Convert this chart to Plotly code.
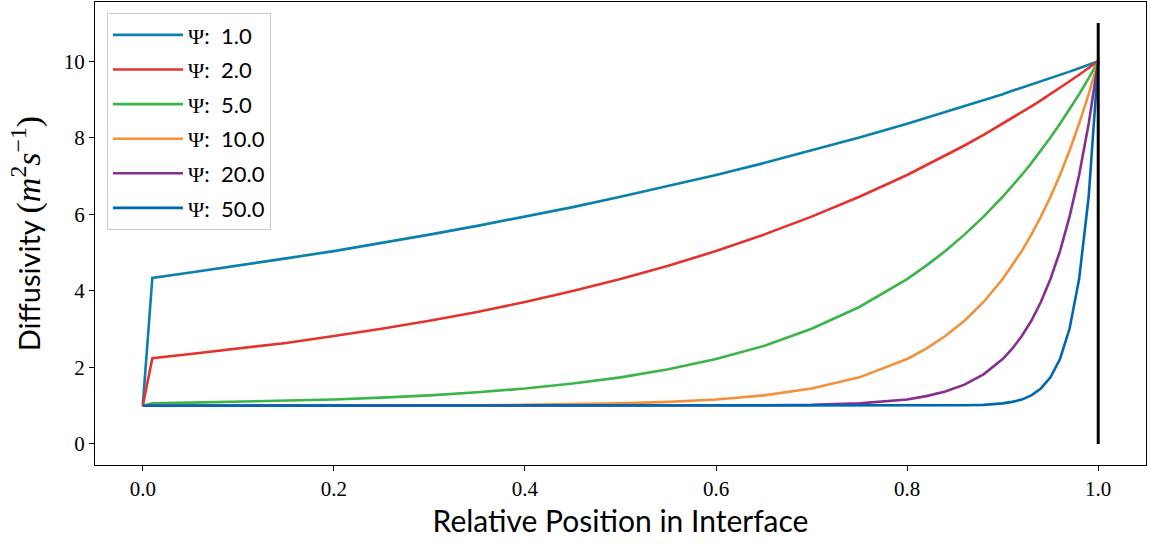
import plotly.graph_objects as go

# Relative position in interface (shared x grid)
position = [0.00, 0.01, 0.05, 0.10, 0.15, 0.20, 0.25, 0.30, 0.35, 0.40, 0.45, 0.50,
            0.55, 0.60, 0.65, 0.70, 0.75, 0.80, 0.82, 0.84, 0.86, 0.88, 0.90, 0.91,
            0.92, 0.93, 0.94, 0.95, 0.96, 0.97, 0.98, 0.99, 1.00]

psi_labels = ["1.0", "2.0", "5.0", "10.0", "20.0", "50.0"]

diff_psi1 = [1.00, 4.34, 4.48, 4.66, 4.85, 5.04, 5.25, 5.47, 5.70, 5.94, 6.19, 6.46,
             6.74, 7.03, 7.34, 7.67, 8.01, 8.37, 8.52, 8.67, 8.82, 8.98, 9.14, 9.23,
             9.31, 9.39, 9.48, 9.56, 9.65, 9.73, 9.82, 9.91, 10.00]
diff_psi2 = [1.00, 2.24, 2.35, 2.49, 2.64, 2.82, 3.01, 3.22, 3.45, 3.71, 4.00, 4.31,
             4.66, 5.04, 5.47, 5.94, 6.46, 7.03, 7.28, 7.54, 7.80, 8.08, 8.37, 8.52,
             8.67, 8.82, 8.98, 9.14, 9.31, 9.48, 9.65, 9.82, 10.00]
diff_psi5 = [1.00, 1.06, 1.08, 1.10, 1.13, 1.16, 1.21, 1.27, 1.35, 1.45, 1.58, 1.74,
             1.95, 2.22, 2.56, 3.01, 3.58, 4.31, 4.66, 5.04, 5.47, 5.94, 6.46, 6.74,
             7.03, 7.34, 7.67, 8.01, 8.37, 8.75, 9.14, 9.56, 10.00]
diff_psi10 = [1.00, 1.00, 1.00, 1.00, 1.00, 1.00, 1.00, 1.01, 1.01, 1.02, 1.04, 1.06,
              1.10, 1.16, 1.27, 1.45, 1.74, 2.22, 2.49, 2.82, 3.22, 3.71, 4.31, 4.66,
              5.04, 5.47, 5.94, 6.46, 7.03, 7.67, 8.37, 9.14, 10.00]
diff_psi20 = [1.00, 1.00, 1.00, 1.00, 1.00, 1.00, 1.00, 1.00, 1.00, 1.00, 1.00, 1.00,
              1.00, 1.00, 1.01, 1.02, 1.06, 1.16, 1.25, 1.37, 1.55, 1.82, 2.22, 2.49,
              2.82, 3.22, 3.71, 4.31, 5.04, 5.94, 7.03, 8.37, 10.00]
diff_psi50 = [1.00, 1.00, 1.00, 1.00, 1.00, 1.00, 1.00, 1.00, 1.00, 1.00, 1.00, 1.00,
              1.00, 1.00, 1.00, 1.00, 1.00, 1.00, 1.00, 1.00, 1.01, 1.02, 1.06, 1.10,
              1.16, 1.27, 1.45, 1.74, 2.22, 3.01, 4.31, 6.46, 10.00]

series = [diff_psi1, diff_psi2, diff_psi5, diff_psi10, diff_psi20, diff_psi50]
colors = ["#0a80ad", "#e5322d", "#3bb54a", "#f3903a", "#85308f", "#0067b2"]

# interface boundary marker
boundary_x = [1.0, 1.0]
boundary_y = [0.0, 11.0]

SERIF = "Liberation Serif"
SANS = "Lato"

fig = go.Figure()
for i, (lab, ys, c) in enumerate(zip(psi_labels, series, colors)):
    fig.add_trace(go.Scatter(
        x=position, y=ys, mode="lines",
        line=dict(color=c, width=2.6),
        name=f"<span style='font-family:{SERIF}'>Ψ</span>:  {lab}",
        legendgroup=f"g{i}",
    ))

fig.add_trace(go.Scatter(
    x=boundary_x, y=boundary_y, mode="lines",
    line=dict(color="black", width=3), showlegend=False,
))

axis_common = dict(
    showline=True, linecolor="black", linewidth=1.3, mirror=True,
    ticks="outside", ticklen=5, tickwidth=1.3, tickcolor="black",
    showgrid=False, zeroline=False,
    tickfont=dict(family=SERIF, size=21, color="black"),
)

ytitle = ("Diffusivity&nbsp;<span style='font-family:Liberation Serif;font-size:34px'>(<i>m</i>"
          "<sup>2</sup><i>s</i><sup>−1</sup>)</span>")

fig.update_layout(
    width=1150, height=545,
    margin=dict(l=95, r=4, t=2, b=80),
    paper_bgcolor="white", plot_bgcolor="white",
    xaxis=dict(range=[-0.05, 1.05], tickvals=[0, 0.2, 0.4, 0.6, 0.8, 1.0],
               ticktext=["0.0", "0.2", "0.4", "0.6", "0.8", "1.0"],
               title=dict(text="Relative Position in Interface",
                          font=dict(family=SANS, size=30, color="black"), standoff=10),
               **axis_common),
    yaxis=dict(range=[-0.55, 11.55], tickvals=[0, 2, 4, 6, 8, 10],
               title=dict(text=ytitle,
                          font=dict(family=SANS, size=29, color="black"), standoff=14),
               **axis_common),
    legend=dict(x=0.0114, y=0.976, xanchor="left", yanchor="top",
                bgcolor="rgba(255,255,255,0.9)", bordercolor="#cccccc", borderwidth=1,
                font=dict(family=SANS, size=22, color="black"),
                tracegroupgap=3, itemwidth=70),
    showlegend=True,
)

fig.write_html("out.html", config={"displayModeBar": False},
               post_script="document.body.style.margin='0px';")
